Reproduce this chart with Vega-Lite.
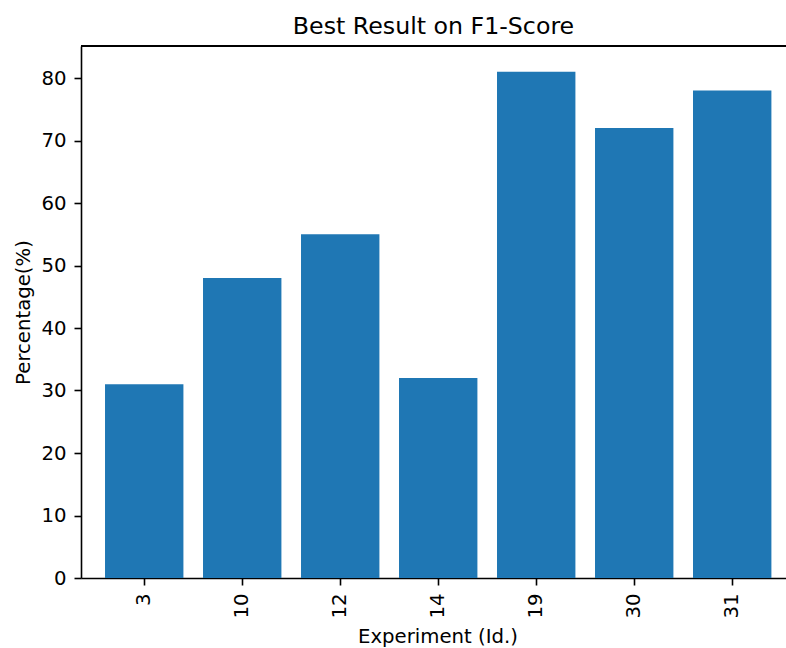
{
  "$schema": "https://vega.github.io/schema/vega-lite/v6.json",
  "width": 705,
  "height": 532,
  "autosize": "none",
  "padding": {"left": 81, "top": 46, "right": 0, "bottom": 70},
  "background": "white",
  "config": {
    "view": {"stroke": null},
    "font": "DejaVu Sans",
    "axis": {
      "labelFont": "DejaVu Sans",
      "titleFont": "DejaVu Sans",
      "labelFontSize": 19.7,
      "titleFontSize": 19.7,
      "labelColor": "black",
      "titleColor": "black",
      "titleFontWeight": "normal",
      "domainColor": "black",
      "domainWidth": 1.6,
      "tickColor": "black",
      "tickWidth": 1.6,
      "tickSize": 7,
      "labelPadding": 8,
      "grid": false
    }
  },
  "title": {
    "text": "Best Result on F1-Score",
    "font": "DejaVu Sans",
    "fontSize": 23.7,
    "fontWeight": "normal",
    "color": "black",
    "anchor": "middle",
    "baseline": "alphabetic",
    "offset": 11,
    "dy": 23
  },
  "data": {
    "values": [
      {"experiment": "3", "percentage": 31},
      {"experiment": "10", "percentage": 48},
      {"experiment": "12", "percentage": 55},
      {"experiment": "14", "percentage": 32},
      {"experiment": "19", "percentage": 81},
      {"experiment": "30", "percentage": 72},
      {"experiment": "31", "percentage": 78}
    ]
  },
  "layer": [
    {
      "mark": {"type": "bar", "color": "#1f77b4"},
      "encoding": {
        "x": {
          "field": "experiment",
          "type": "ordinal",
          "sort": null,
          "scale": {"paddingInner": 0.2, "paddingOuter": 0.197, "align": 0.622},
          "axis": {
            "title": "Experiment (Id.)",
            "labelAngle": 270,
            "titleX": 356.5,
            "titleY": 64,
            "titleBaseline": "alphabetic",
            "titleAlign": "center"
          }
        },
        "y": {
          "field": "percentage",
          "type": "quantitative",
          "scale": {"domain": [0, 85.12], "nice": false},
          "axis": {
            "title": "Percentage(%)",
            "values": [0, 10, 20, 30, 40, 50, 60, 70, 80],
            "titleAngle": 270,
            "titleX": -52,
            "titleY": 266,
            "titleBaseline": "alphabetic",
            "titleAlign": "center"
          }
        }
      }
    },
    {
      "mark": {"type": "rule", "color": "black", "strokeWidth": 1.6},
      "encoding": {"y": {"datum": 85.12}}
    }
  ]
}
